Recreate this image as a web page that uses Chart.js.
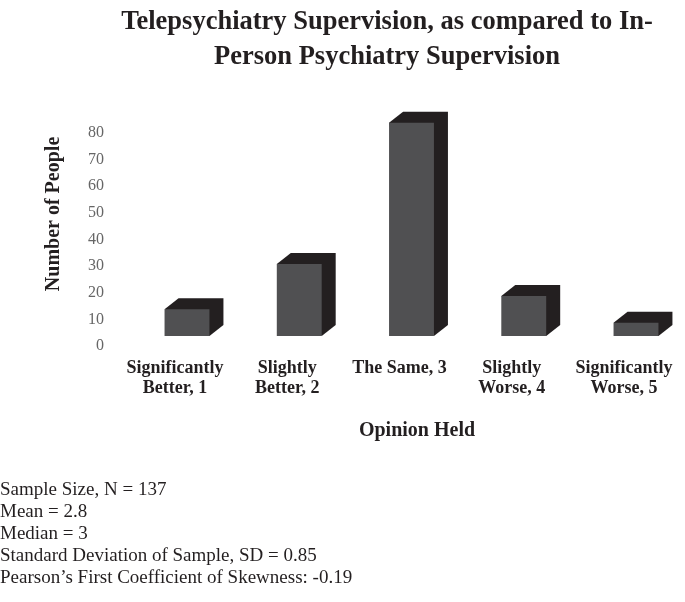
<!DOCTYPE html>
<html>
<head>
<meta charset="utf-8">
<title>Telepsychiatry Supervision</title>
<script src="https://cdn.jsdelivr.net/npm/chart.js@4.4.1/dist/chart.umd.min.js"></script>
<style>
  html, body { margin: 0; padding: 0; background: #fff; }
  #wrap { position: relative; width: 685px; height: 602px; }
  #opinionChart { position: absolute; left: 0; top: 0; }
  #stats {
    position: absolute; left: 0; top: 478px;
    font: 19px 'Liberation Serif', 'Times New Roman', serif;
    line-height: 22px; color: #231f20; white-space: nowrap;
  }
</style>
</head>
<body>
<div id="wrap">
  <canvas id="opinionChart" width="685" height="602"></canvas>
  <div id="stats"></div>
</div>
<script>
// data
const categories = [
    ['Significantly', 'Better, 1'],
    ['Slightly', 'Better, 2'],
    'The Same, 3',
    ['Slightly', 'Worse, 4'],
    ['Significantly', 'Worse, 5']
];
const opinionScores = [1, 2, 3, 4, 5];
const peopleCounts = [10, 27, 80, 15, 5];
const yTicks = [0, 10, 20, 30, 40, 50, 60, 70, 80];
const statLines = [
    'Sample Size, N = 137',
    'Mean = 2.8',
    'Median = 3',
    'Standard Deviation of Sample, SD = 0.85',
    'Pearson\u2019s First Coefficient of Skewness: -0.19'
];

document.getElementById('stats').innerHTML = statLines.map(s => '<div>' + s + '</div>').join('');

const serif = "'Liberation Serif', 'Times New Roman', serif";
const ink = '#231f20';
const frontColor = '#505052';
const depthColor = '#231f20';
const DX = 14, DY = 11;   // depth of the fake 3d boxes

// top + side faces of each bar, drawn under the front face
const bar3d = {
    id: 'bar3d',
    beforeDatasetsDraw(chart) {
        const ctx = chart.ctx;
        ctx.save();
        ctx.fillStyle = depthColor;
        chart.getDatasetMeta(0).data.forEach(bar => {
            const { x, y, base, width } = bar.getProps(['x', 'y', 'base', 'width'], true);
            const l = x - width / 2, r = x + width / 2;
            ctx.beginPath();
            ctx.moveTo(l, y);
            ctx.lineTo(l + DX, y - DY);
            ctx.lineTo(r + DX, y - DY);
            ctx.lineTo(r + DX, base - DY);
            ctx.lineTo(r, base);
            ctx.closePath();
            ctx.fill();
        });
        ctx.restore();
    },
    afterDraw(chart) {
        // x axis title sits right of the plot centre in the original
        const xs = chart.scales.x;
        const ctx = chart.ctx;
        ctx.save();
        ctx.font = 'bold 20px ' + serif;
        ctx.fillStyle = ink;
        ctx.textAlign = 'center';
        ctx.textBaseline = 'middle';
        ctx.fillText('Opinion Held', (xs.left + xs.right) / 2 + 30, xs.top + 95);
        ctx.restore();
    }
};

const ctx = document.getElementById('opinionChart').getContext('2d');

new Chart(ctx, {
    type: 'bar',
    data: {
        datasets: [{
            data: opinionScores.map((x, i) => ({ x: x, y: peopleCounts[i] })),
            backgroundColor: frontColor,
            borderWidth: 0,
            barPercentage: 0.4,
            categoryPercentage: 1
        }]
    },
    options: {
        responsive: false,
        animation: false,
        layout: {
            padding: { left: 42, right: 26, top: 0, bottom: 166 }
        },
        plugins: {
            legend: { display: false },
            tooltip: { enabled: false },
            title: {
                display: true,
                fullSize: false,
                text: ['Telepsychiatry Supervision, as compared to In-', 'Person Psychiatry Supervision'],
                color: ink,
                font: { family: serif, size: 26.5, weight: 'bold', lineHeight: 1.3 },
                padding: { top: 5, bottom: 18 }
            }
        },
        scales: {
            x: {
                type: 'linear',
                offset: false,
                min: 0.3586,
                max: 5.2049,
                bounds: 'data',
                grid: { display: false, drawTicks: false, offset: false },
                border: { display: false },
                afterBuildTicks: s => { s.ticks = opinionScores.map(v => ({ value: v })); },
                afterFit: s => { s.height = 100; s.paddingLeft = 0; s.paddingRight = 0; },
                ticks: {
                    autoSkip: false,
                    maxRotation: 0,
                    padding: 22,
                    labelOffset: -12,
                    color: ink,
                    font: { family: serif, size: 18, weight: 'bold', lineHeight: 1.11 },
                    callback: (value, index) => categories[index]
                }
            },
            y: {
                min: 0,
                max: 91.56,
                bounds: 'data',
                grid: { display: false, drawTicks: false },
                border: { display: false },
                afterBuildTicks: s => { s.ticks = yTicks.map(v => ({ value: v })); },
                afterFit: s => { s.width = 73; },
                ticks: {
                    padding: 11,
                    labelOffset: 10,
                    color: '#666',
                    font: { family: serif, size: 16 }
                },
                title: {
                    display: true,
                    text: 'Number of People',
                    color: ink,
                    font: { family: serif, size: 20, weight: 'bold' },
                    padding: 0
                }
            }
        }
    },
    plugins: [bar3d]
});
</script>
</body>
</html>
